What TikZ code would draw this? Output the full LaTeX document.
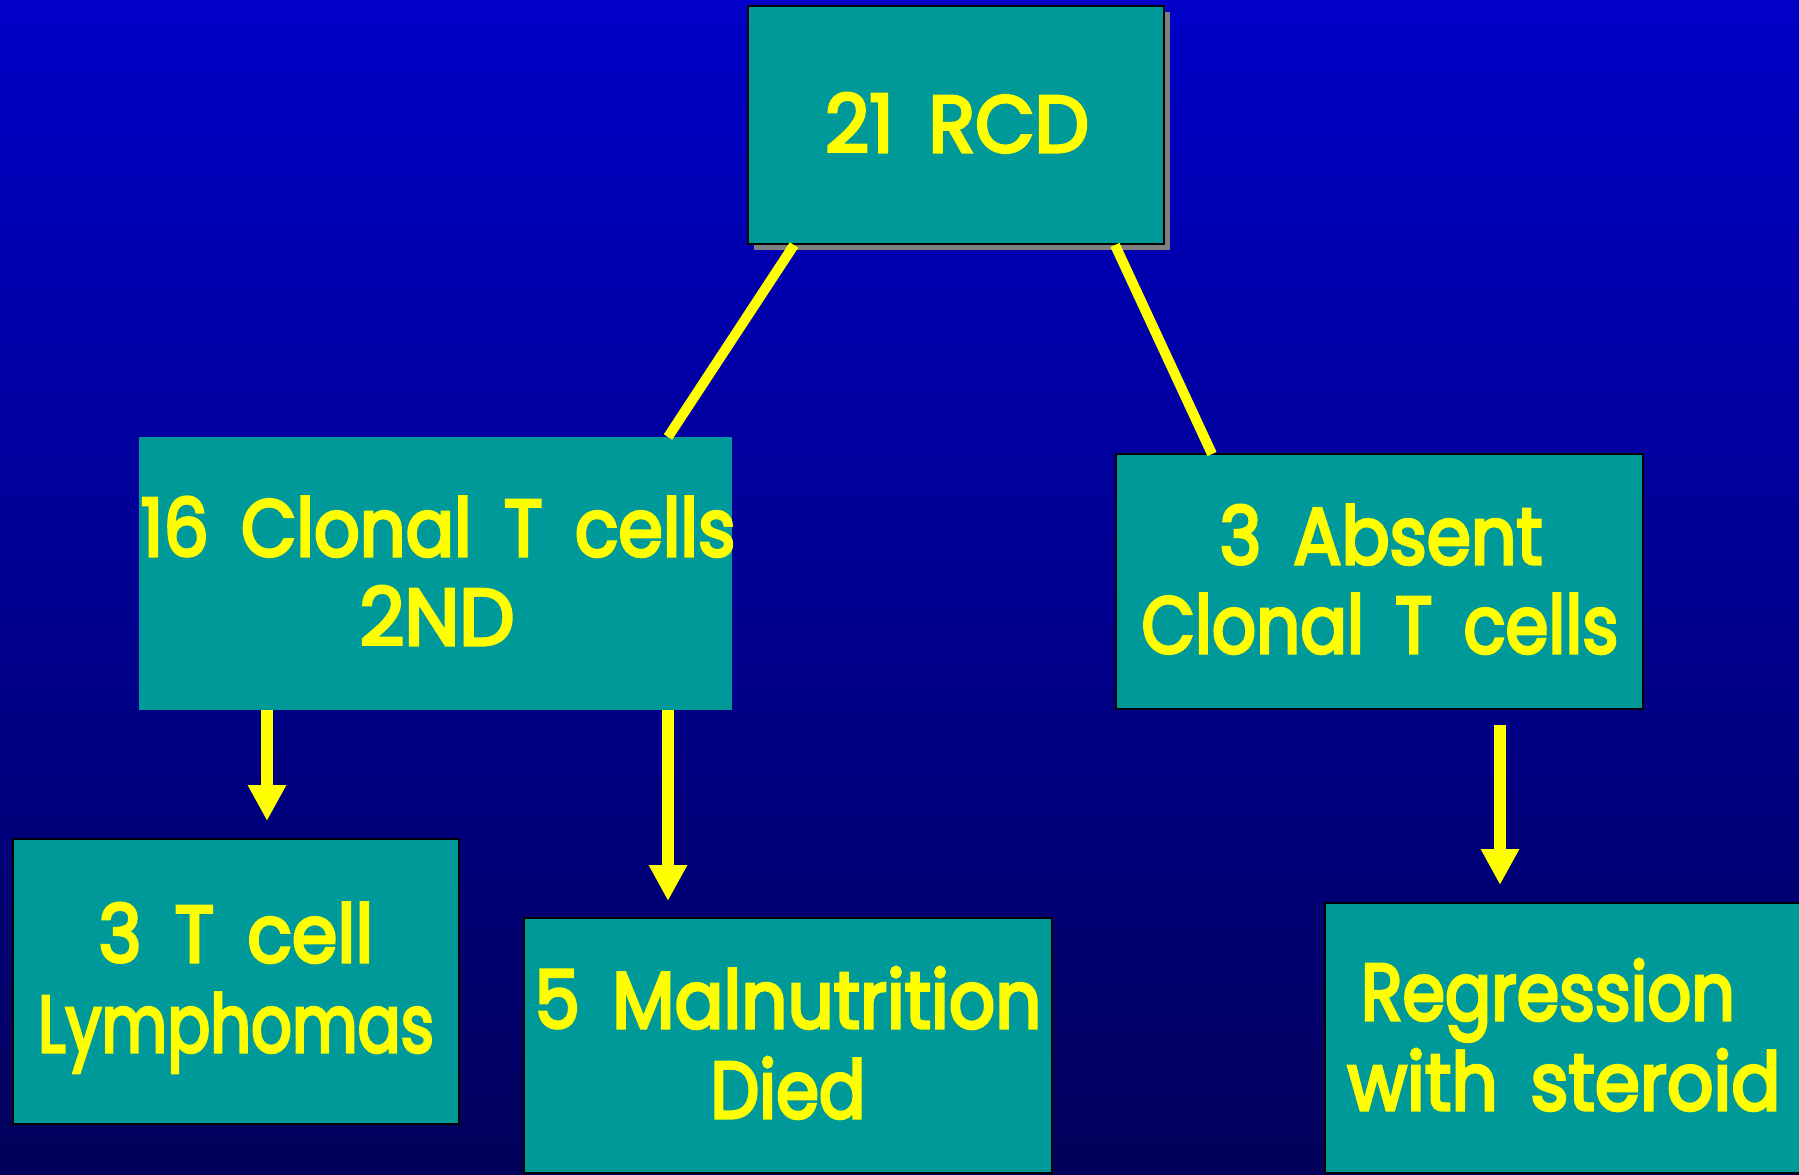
\documentclass[tikz,border=0pt]{standalone}
\usepackage{fontspec}
\setmainfont{Poppins}[FakeBold=4]
\usepackage{graphicx}
\usetikzlibrary{arrows.meta,calc,shadows}
\definecolor{tealbox}{RGB}{0,153,153}
\definecolor{bgtop}{RGB}{0,0,200}
\definecolor{bgbot}{RGB}{0,0,90}
\definecolor{shadowgray}{RGB}{128,128,128}
\definecolor{yel}{RGB}{255,255,0}
\newlength\fitlen
\newcommand\fitw[2]{\spaceskip=0.45em\relax\settowidth\fitlen{#2}\pgfmathsetmacro\fitr{#1/\fitlen}\scalebox{\fitr}[1]{#2}}
\begin{document}
\begin{tikzpicture}[x=0.5pt,y=-0.5pt,
  box/.style={draw=black,line width=1pt,fill=tealbox,inner sep=0pt,outer sep=0pt},
  nobox/.style={draw=none,fill=tealbox,inner sep=0pt,outer sep=0pt},
  txt/.style={anchor=base,text=yel,inner sep=0pt,font=\fontsize{40}{48}\selectfont},
  conn/.style={draw=yel,line width=5pt},
  arr/.style={draw=yel,line width=6pt,-{Triangle[width=18pt,length=18pt]}}]
\shade[top color=bgtop,bottom color=bgbot] (0,0) rectangle (1799,1174);
\useasboundingbox (0,0) rectangle (1799,1174);
% boxes
\node[box,minimum width=208pt,minimum height=119pt,
  drop shadow={shadow xshift=3pt,shadow yshift=-3pt,fill=shadowgray,opacity=1}] (top) at (956,125) {};
\node[nobox,minimum width=296.5pt,minimum height=136.5pt] (b2) at (435.5,573.5) {};
\node[box,minimum width=263.5pt,minimum height=127.5pt] (b3) at (1379.5,581.5) {};
\node[box,minimum width=223pt,minimum height=142.5pt] (b4) at (236,981.5) {};
\node[box,minimum width=264pt,minimum height=127.5pt] (b5) at (788,1045.5) {};
\node[box,minimum width=243.5pt,minimum height=135pt] (b6) at (1568.5,1038) {};
% texts
\node[txt] (t1) at (957,152) {\fitw{132}{21 RCD}};
\node[txt] (t2a) at (438,556) {\fitw{297.5}{16 Clonal T cells}};
\node[txt] (t2b) at (437,645) {\fitw{77.5}{2ND}};
\node[txt] (t3a) at (1381,564) {\fitw{161.5}{3 Absent}};
\node[txt] (t3b) at (1380,653) {\fitw{238.5}{Clonal T cells}};
\node[txt] (t4a) at (236,962) {\fitw{137.5}{3 T cell}};
\node[txt] (t4b) at (236,1052) {\fitw{198}{Lymphomas}};
\node[txt] (t5a) at (788,1028) {\fitw{253.5}{5 Malnutrition}};
\node[txt] (t5b) at (788,1118) {\fitw{77.5}{Died}};
\node[txt] (t6a) at (1548,1020) {\fitw{187}{Regression}};
\node[txt] (t6b) at (1564,1110) {\fitw{216.5}{with steroid}};
% connectors
\draw[conn] ($(top.south west)+(46,1)$) -- ($(b2.north west)+(529,0)$);
\draw[conn] ($(top.south west)+(367,1)$) -- ($(b3.north west)+(96,0)$);
\draw[arr] ($(b2.south west)+(128,0)$) -- ($(b4.north west)+(254,-18)$);
\draw[arr] ($(b2.south west)+(529,0)$) -- ($(b5.north west)+(144,-17)$);
\draw[arr] ($(b3.south west)+(384,16)$) -- ($(b6.north west)+(175,-18)$);
\end{tikzpicture}
\end{document}
